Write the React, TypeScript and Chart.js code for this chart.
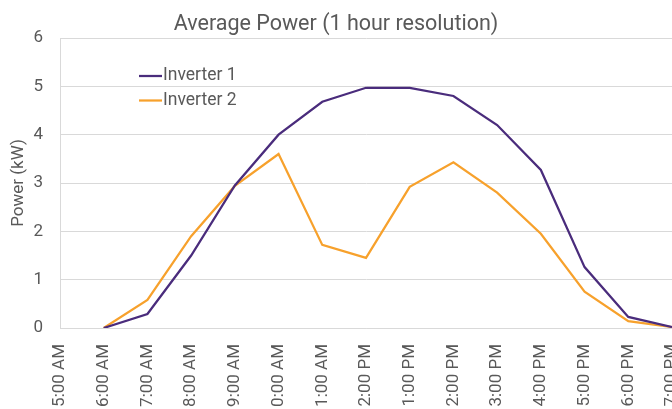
import React, { useEffect, useRef } from "react";
import { Chart, registerables } from "chart.js";

Chart.register(...registerables);

const hours = [
  "5:00 AM", "6:00 AM", "7:00 AM", "8:00 AM", "9:00 AM", "10:00 AM", "11:00 AM",
  "12:00 PM", "1:00 PM", "2:00 PM", "3:00 PM", "4:00 PM", "5:00 PM", "6:00 PM", "7:00 PM",
];
const inverter1 = [null, 0, 0.29, 1.5, 2.95, 4.0, 4.68, 4.97, 4.97, 4.8, 4.2, 3.27, 1.26, 0.23, 0.02];
const inverter2 = [null, 0, 0.58, 1.9, 2.94, 3.6, 1.72, 1.45, 2.92, 3.43, 2.8, 1.95, 0.75, 0.14, 0.02];
const yTicks = [0, 1, 2, 3, 4, 5, 6];

const TEXT = "#595959";
const GRID = "#d9d9d9";
const FONT = "Roboto";

const insideLegend = {
  id: "insideLegend",
  afterDraw(chart: any) {
    const { ctx, chartArea } = chart;
    const x0 = chartArea.left + 79;
    const y0 = chartArea.top + 38;
    ctx.save();
    ctx.font = `17.5px ${FONT}`;
    ctx.textBaseline = "middle";
    ctx.textAlign = "left";
    chart.data.datasets.forEach((ds: any, i: number) => {
      const y = y0 + i * 24.5;
      ctx.strokeStyle = ds.borderColor;
      ctx.lineWidth = 2.25;
      ctx.beginPath();
      ctx.moveTo(x0, y);
      ctx.lineTo(x0 + 23, y);
      ctx.stroke();
      ctx.fillStyle = TEXT;
      ctx.fillText(ds.label, x0 + 24, y);
    });
    ctx.restore();
  },
};

export default function App() {
  const ref = useRef<HTMLCanvasElement>(null);
  useEffect(() => {
    if (!ref.current) return;
    const chart = new Chart(ref.current, {
      type: "line",
      data: {
        labels: hours,
        datasets: [
          {
            label: "Inverter 1",
            data: inverter1,
            borderColor: "#4a2c7c",
            backgroundColor: "#4a2c7c",
            borderWidth: 2.25,
            pointRadius: 0,
            tension: 0,
          },
          {
            label: "Inverter 2",
            data: inverter2,
            borderColor: "#f7a12c",
            backgroundColor: "#f7a12c",
            borderWidth: 2.25,
            pointRadius: 0,
            tension: 0,
          },
        ],
      },
      plugins: [insideLegend],
      options: {
        responsive: false,
        animation: false,
        layout: { padding: { left: 0, right: 2, top: 0, bottom: 0 } },
        plugins: {
          legend: { display: false },
          tooltip: { enabled: false },
          title: {
            display: true,
            text: "Average Power (1 hour resolution)",
            color: TEXT,
            font: { family: FONT, size: 21.5, weight: "normal" },
            padding: { top: 12, bottom: 0.2 },
          },
        },
        scales: {
          x: {
            grid: { display: false, drawTicks: false },
            border: { display: true, color: GRID },
            ticks: {
              color: TEXT,
              font: { family: FONT, size: 17 },
              minRotation: 90,
              maxRotation: 90,
              autoSkip: false,
              padding: 16,
            },
            afterFit(scale: any) {
              scale.paddingLeft = 0;
              scale.paddingRight = 0;
              scale.height = 440 - 328;
            },
          },
          y: {
            min: 0,
            max: 6,
            afterBuildTicks(scale: any) {
              scale.ticks = yTicks.map((v) => ({ value: v }));
            },
            grid: { color: GRID, drawTicks: false },
            border: { display: true, color: GRID },
            ticks: {
              color: TEXT,
              font: { family: FONT, size: 17 },
              padding: 17,
            },
            title: {
              display: true,
              text: "Power (kW)",
              color: TEXT,
              font: { family: FONT, size: 17 },
              padding: { top: 9, bottom: 0 },
            },
            afterFit(scale: any) {
              scale.width = 60;
              scale.paddingTop = 0;
              scale.paddingBottom = 0;
            },
          },
        },
      },
    } as any);
    return () => chart.destroy();
  }, []);
  return (
    <div style={{ position: "absolute", left: 0, top: 0, width: 674, height: 440 }}>
      <canvas ref={ref} width={674} height={440} />
    </div>
  );
}
